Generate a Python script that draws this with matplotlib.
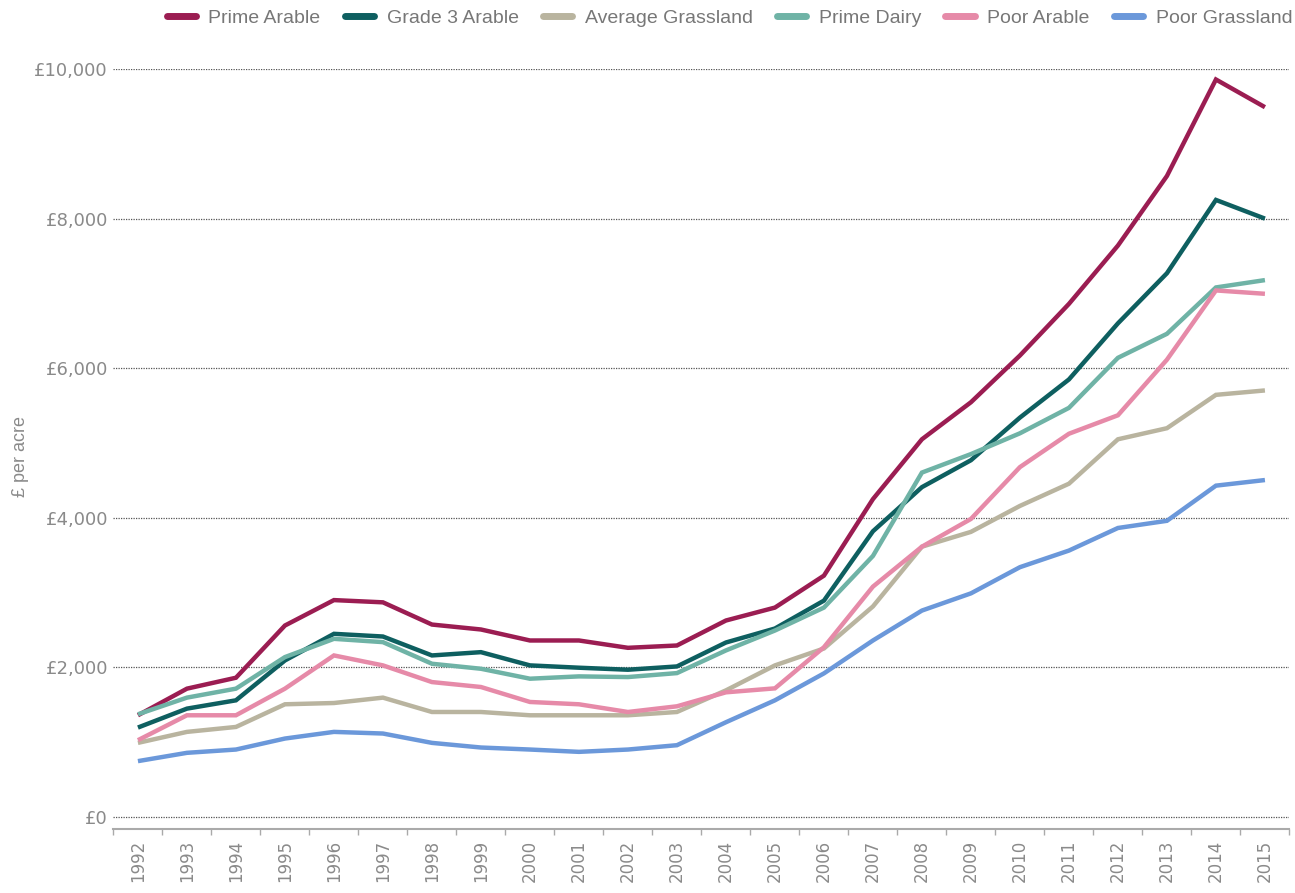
from matplotlib import pyplot as plt
from matplotlib.ticker import FuncFormatter, FixedLocator
import numpy as np

years = list(range(1992, 2016))

prime_arable = [1360, 1716, 1862, 2560, 2900, 2870, 2573, 2507, 2360, 2360, 2262, 2293,
                2627, 2800, 3227, 4250, 5050, 5545, 6170, 6860, 7640, 8570, 9860, 9490]
grade3_arable = [1196, 1449, 1560, 2093, 2449, 2413, 2160, 2204, 2027, 1996, 1969, 2013,
                 2333, 2520, 2893, 3820, 4410, 4770, 5340, 5850, 6600, 7270, 8250, 8000]
average_grassland = [991, 1138, 1204, 1507, 1524, 1596, 1404, 1404, 1360, 1360, 1360, 1404,
                     1693, 2027, 2253, 2815, 3614, 3812, 4159, 4456, 5050, 5198, 5644, 5703]
prime_dairy = [1373, 1596, 1716, 2138, 2382, 2338, 2049, 1982, 1849, 1880, 1871, 1924,
               2227, 2493, 2800, 3490, 4605, 4852, 5130, 5470, 6139, 6460, 7080, 7178]
poor_arable = [1027, 1360, 1360, 1716, 2160, 2027, 1804, 1738, 1538, 1507, 1404, 1480,
               1667, 1720, 2270, 3080, 3614, 3985, 4678, 5124, 5371, 6114, 7040, 6995]
poor_grassland = [747, 858, 902, 1049, 1138, 1116, 991, 929, 902, 871, 902, 960,
                  1267, 1560, 1920, 2360, 2760, 2990, 3340, 3562, 3864, 3960, 4430, 4505]

series = [
    ("Prime Arable", prime_arable, "#9b1d52"),
    ("Grade 3 Arable", grade3_arable, "#0e5f60"),
    ("Average Grassland", average_grassland, "#b9b49f"),
    ("Prime Dairy", prime_dairy, "#6fb3a6"),
    ("Poor Arable", poor_arable, "#e68aa8"),
    ("Poor Grassland", poor_grassland, "#6b98da"),
]

fig = plt.figure(figsize=(12.95, 8.93), dpi=100)
ax = fig.add_axes([0.0876, 0.0717, 0.9081, 0.851])

x = np.arange(len(years))
for name, values, color in series:
    ax.plot(x, values, color=color, linewidth=3.2, label=name,
            solid_capstyle="butt", solid_joinstyle="miter")

ax.set_xlim(-0.5, len(years) - 0.5)
ax.set_ylim(-160, 10000)

ax.set_yticks(np.arange(0, 10001, 2000))
ax.yaxis.set_major_formatter(FuncFormatter(lambda v, p: f"£{int(v):,}"))
ax.grid(axis="y", linestyle=(0, (1, 1)), color="#555555", linewidth=0.9)
ax.set_axisbelow(True)

ax.set_xticks(x)
ax.set_xticklabels([str(y) for y in years], rotation=90)
ax.xaxis.set_minor_locator(FixedLocator(np.arange(-0.5, len(years), 1)))
ax.tick_params(axis="x", which="major", length=0, pad=8, labelsize=12, labelcolor="#8a8a8a")
ax.tick_params(axis="x", which="minor", length=4, color="#aaaaaa", width=1)
ax.tick_params(axis="y", length=0, pad=4, labelsize=13, labelcolor="#8a8a8a")

for side in ["top", "right", "left"]:
    ax.spines[side].set_visible(False)
ax.spines["bottom"].set_color("#aaaaaa")
ax.spines["bottom"].set_linewidth(1.5)

ax.set_ylabel("£ per acre", color="#8a8a8a", fontsize=13, family="Liberation Sans")
ax.yaxis.set_label_coords(-0.072, 0.49)

leg = fig.legend(loc="center right", bbox_to_anchor=(0.998, 0.98), ncol=6,
                 frameon=False, borderaxespad=0, borderpad=0,
                 handlelength=1.5, handletextpad=0.65, columnspacing=1.25,
                 prop={"family": "Liberation Sans", "size": 14})
for text in leg.get_texts():
    text.set_color("#777777")
for line in leg.get_lines():
    line.set_linewidth(5)
    line.set_solid_capstyle("round")

fig.savefig("out.png", dpi=100)
plt.close(fig)
